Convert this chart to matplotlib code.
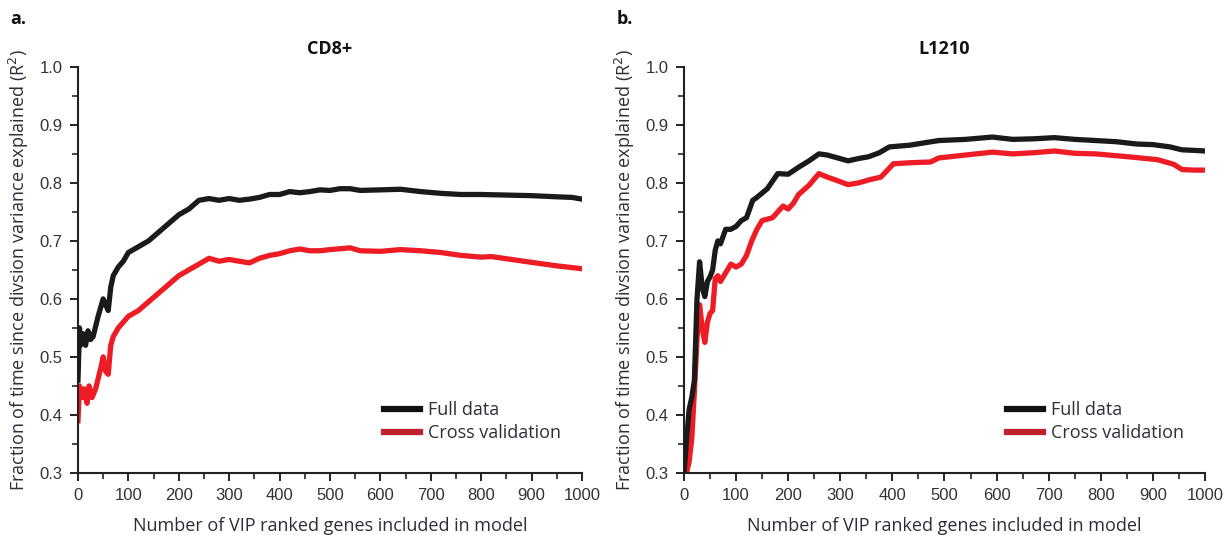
import matplotlib.pyplot as plt
from matplotlib.ticker import MultipleLocator

# CD8+ panel
cd8_x = [0, 3, 5, 10, 15, 20, 25, 30, 40, 50, 55, 60, 65, 70, 80, 90, 100, 120, 140, 160, 180,
         200, 220, 240, 260, 280, 300, 320, 340, 360, 380, 400, 420, 440, 460, 480, 500, 520,
         540, 560, 600, 640, 680, 720, 760, 800, 850, 900, 950, 980, 1000]
cd8_full = [0.46, 0.55, 0.52, 0.54, 0.52, 0.545, 0.53, 0.535, 0.57, 0.60, 0.59, 0.58, 0.62, 0.64,
            0.655, 0.665, 0.68, 0.69, 0.70, 0.715, 0.73, 0.745, 0.755, 0.77, 0.773, 0.77, 0.773,
            0.77, 0.772, 0.775, 0.78, 0.78, 0.785, 0.783, 0.785, 0.788, 0.787, 0.79, 0.79, 0.787,
            0.788, 0.789, 0.785, 0.782, 0.78, 0.78, 0.779, 0.778, 0.776, 0.775, 0.772]
cd8_cv_x = [0, 3, 8, 12, 18, 22, 28, 35, 45, 50, 55, 60, 65, 70, 80, 90, 100, 120, 140, 160, 180,
            200, 220, 240, 260, 280, 300, 320, 340, 360, 380, 400, 420, 440, 460, 480, 500, 540,
            560, 600, 640, 680, 720, 760, 800, 820, 860, 900, 950, 1000]
cd8_cv = [0.39, 0.45, 0.43, 0.445, 0.42, 0.45, 0.43, 0.445, 0.48, 0.50, 0.475, 0.47, 0.52, 0.535,
          0.55, 0.56, 0.57, 0.58, 0.595, 0.61, 0.625, 0.64, 0.65, 0.66, 0.67, 0.665, 0.668, 0.665,
          0.662, 0.67, 0.675, 0.678, 0.683, 0.686, 0.683, 0.683, 0.685, 0.688, 0.683, 0.682,
          0.685, 0.683, 0.68, 0.675, 0.672, 0.673, 0.668, 0.663, 0.657, 0.652]

# L1210 panel
l12_x = [0, 5, 10, 15, 20, 25, 30, 35, 40, 45, 50, 55, 60, 65, 70, 80, 90, 100, 110, 120, 132,
         140, 160, 180, 200, 220, 240, 259, 275, 291, 315, 335, 354, 375, 394, 433, 489, 540,
         592, 631, 671, 711, 750, 790, 830, 869, 900, 933, 956, 980, 1000]
l12_full = [0.30, 0.357, 0.41, 0.43, 0.46, 0.60, 0.664, 0.62, 0.604, 0.63, 0.638, 0.65, 0.684,
            0.70, 0.695, 0.72, 0.72, 0.725, 0.735, 0.74, 0.77, 0.775, 0.79, 0.816, 0.815, 0.827,
            0.838, 0.85, 0.848, 0.844, 0.838, 0.842, 0.845, 0.852, 0.862, 0.865, 0.873, 0.875,
            0.879, 0.875, 0.876, 0.878, 0.875, 0.873, 0.871, 0.867, 0.866, 0.862, 0.857, 0.856,
            0.855]
l12_cv_x = [0, 5, 10, 15, 20, 25, 30, 35, 40, 45, 50, 55, 60, 65, 70, 80, 90, 100, 110, 120, 130,
            140, 150, 170, 190, 200, 210, 220, 240, 259, 275, 291, 315, 335, 354, 378, 402, 440,
            473, 489, 540, 592, 631, 671, 711, 750, 790, 853, 909, 940, 956, 980, 1000]
l12_cv = [0.30, 0.30, 0.32, 0.36, 0.44, 0.53, 0.59, 0.55, 0.525, 0.56, 0.575, 0.58, 0.635, 0.64,
          0.63, 0.645, 0.66, 0.655, 0.66, 0.675, 0.70, 0.72, 0.735, 0.74, 0.76, 0.755, 0.765,
          0.78, 0.796, 0.816, 0.81, 0.805, 0.797, 0.80, 0.805, 0.81, 0.833, 0.835, 0.836, 0.843,
          0.848, 0.853, 0.85, 0.852, 0.855, 0.851, 0.85, 0.845, 0.84, 0.832, 0.823, 0.822, 0.822]

y_ticks = [0.3, 0.4, 0.5, 0.6, 0.7, 0.8, 0.9, 1.0]

plt.rcParams['font.family'] = ['Liberation Sans', 'DejaVu Sans']

fig = plt.figure(figsize=(12.24, 5.35), dpi=100)
panels = [
    ([0.0637, 0.116, 0.4118, 0.759], 'CD8+', 'a.', cd8_x, cd8_full, cd8_cv_x, cd8_cv),
    ([0.5588, 0.116, 0.4257, 0.759], 'L1210', 'b.', l12_x, l12_full, l12_cv_x, l12_cv),
]
txt = '#2e2e3a'
myriad = ['Open Sans', 'DejaVu Sans']

for rect, title, tag, fx, fy, cx, cy in panels:
    ax = fig.add_axes(rect)
    ax.plot(fx, fy, color='#1a1a1a', lw=3.8, solid_joinstyle='round', zorder=3)
    ax.plot(cx, cy, color='#ee1c24', lw=3.8, solid_joinstyle='round', zorder=2)
    ax.plot([], [], color='#111111', lw=4.5, label='Full data')
    ax.plot([], [], color='#c0202f', lw=4.5, label='Cross validation')
    ax.set_xlim(0, 1000)
    ax.set_ylim(0.3, 1.0)
    ax.xaxis.set_major_locator(MultipleLocator(100))
    ax.xaxis.set_minor_locator(MultipleLocator(50))
    ax.set_yticks(y_ticks)
    ax.set_yticklabels(['%.1f' % v for v in y_ticks])
    ax.yaxis.set_minor_locator(MultipleLocator(0.05))
    ax.set_ylim(0.3, 1.0)
    for s in ['top', 'right']:
        ax.spines[s].set_visible(False)
    for s in ['left', 'bottom']:
        ax.spines[s].set_linewidth(1.5)
        ax.spines[s].set_color('#222222')
    ax.tick_params(which='major', direction='out', length=6, width=1.4, labelsize=12,
                   labelcolor='#333333', color='#222222', pad=5)
    ax.tick_params(which='minor', direction='out', length=4, width=1.2, color='#222222')
    ax.set_title(title, fontsize=13, fontweight='bold', family=myriad, pad=9, color='#111111')
    ax.set_xlabel('Number of VIP ranked genes included in model', fontsize=13, color=txt,
                  family=myriad, labelpad=10)
    ax.set_ylabel('Fraction of time since divsion variance explained (R$^2$)', fontsize=13,
                  color=txt, family=myriad, labelpad=6)
    ax.legend(loc='lower right', bbox_to_anchor=(0.99, 0.035), frameon=False,
              handlelength=2.0, handletextpad=0.4, labelspacing=0.3,
              prop={'family': myriad, 'size': 13})
    for t in ax.get_legend().get_texts():
        t.set_color(txt)
    fig.text(rect[0] - 0.055, 0.965, tag, fontsize=13, fontweight='bold', color='#111111',
             family=myriad, va='center')

fig.savefig('out.png', dpi=100)
